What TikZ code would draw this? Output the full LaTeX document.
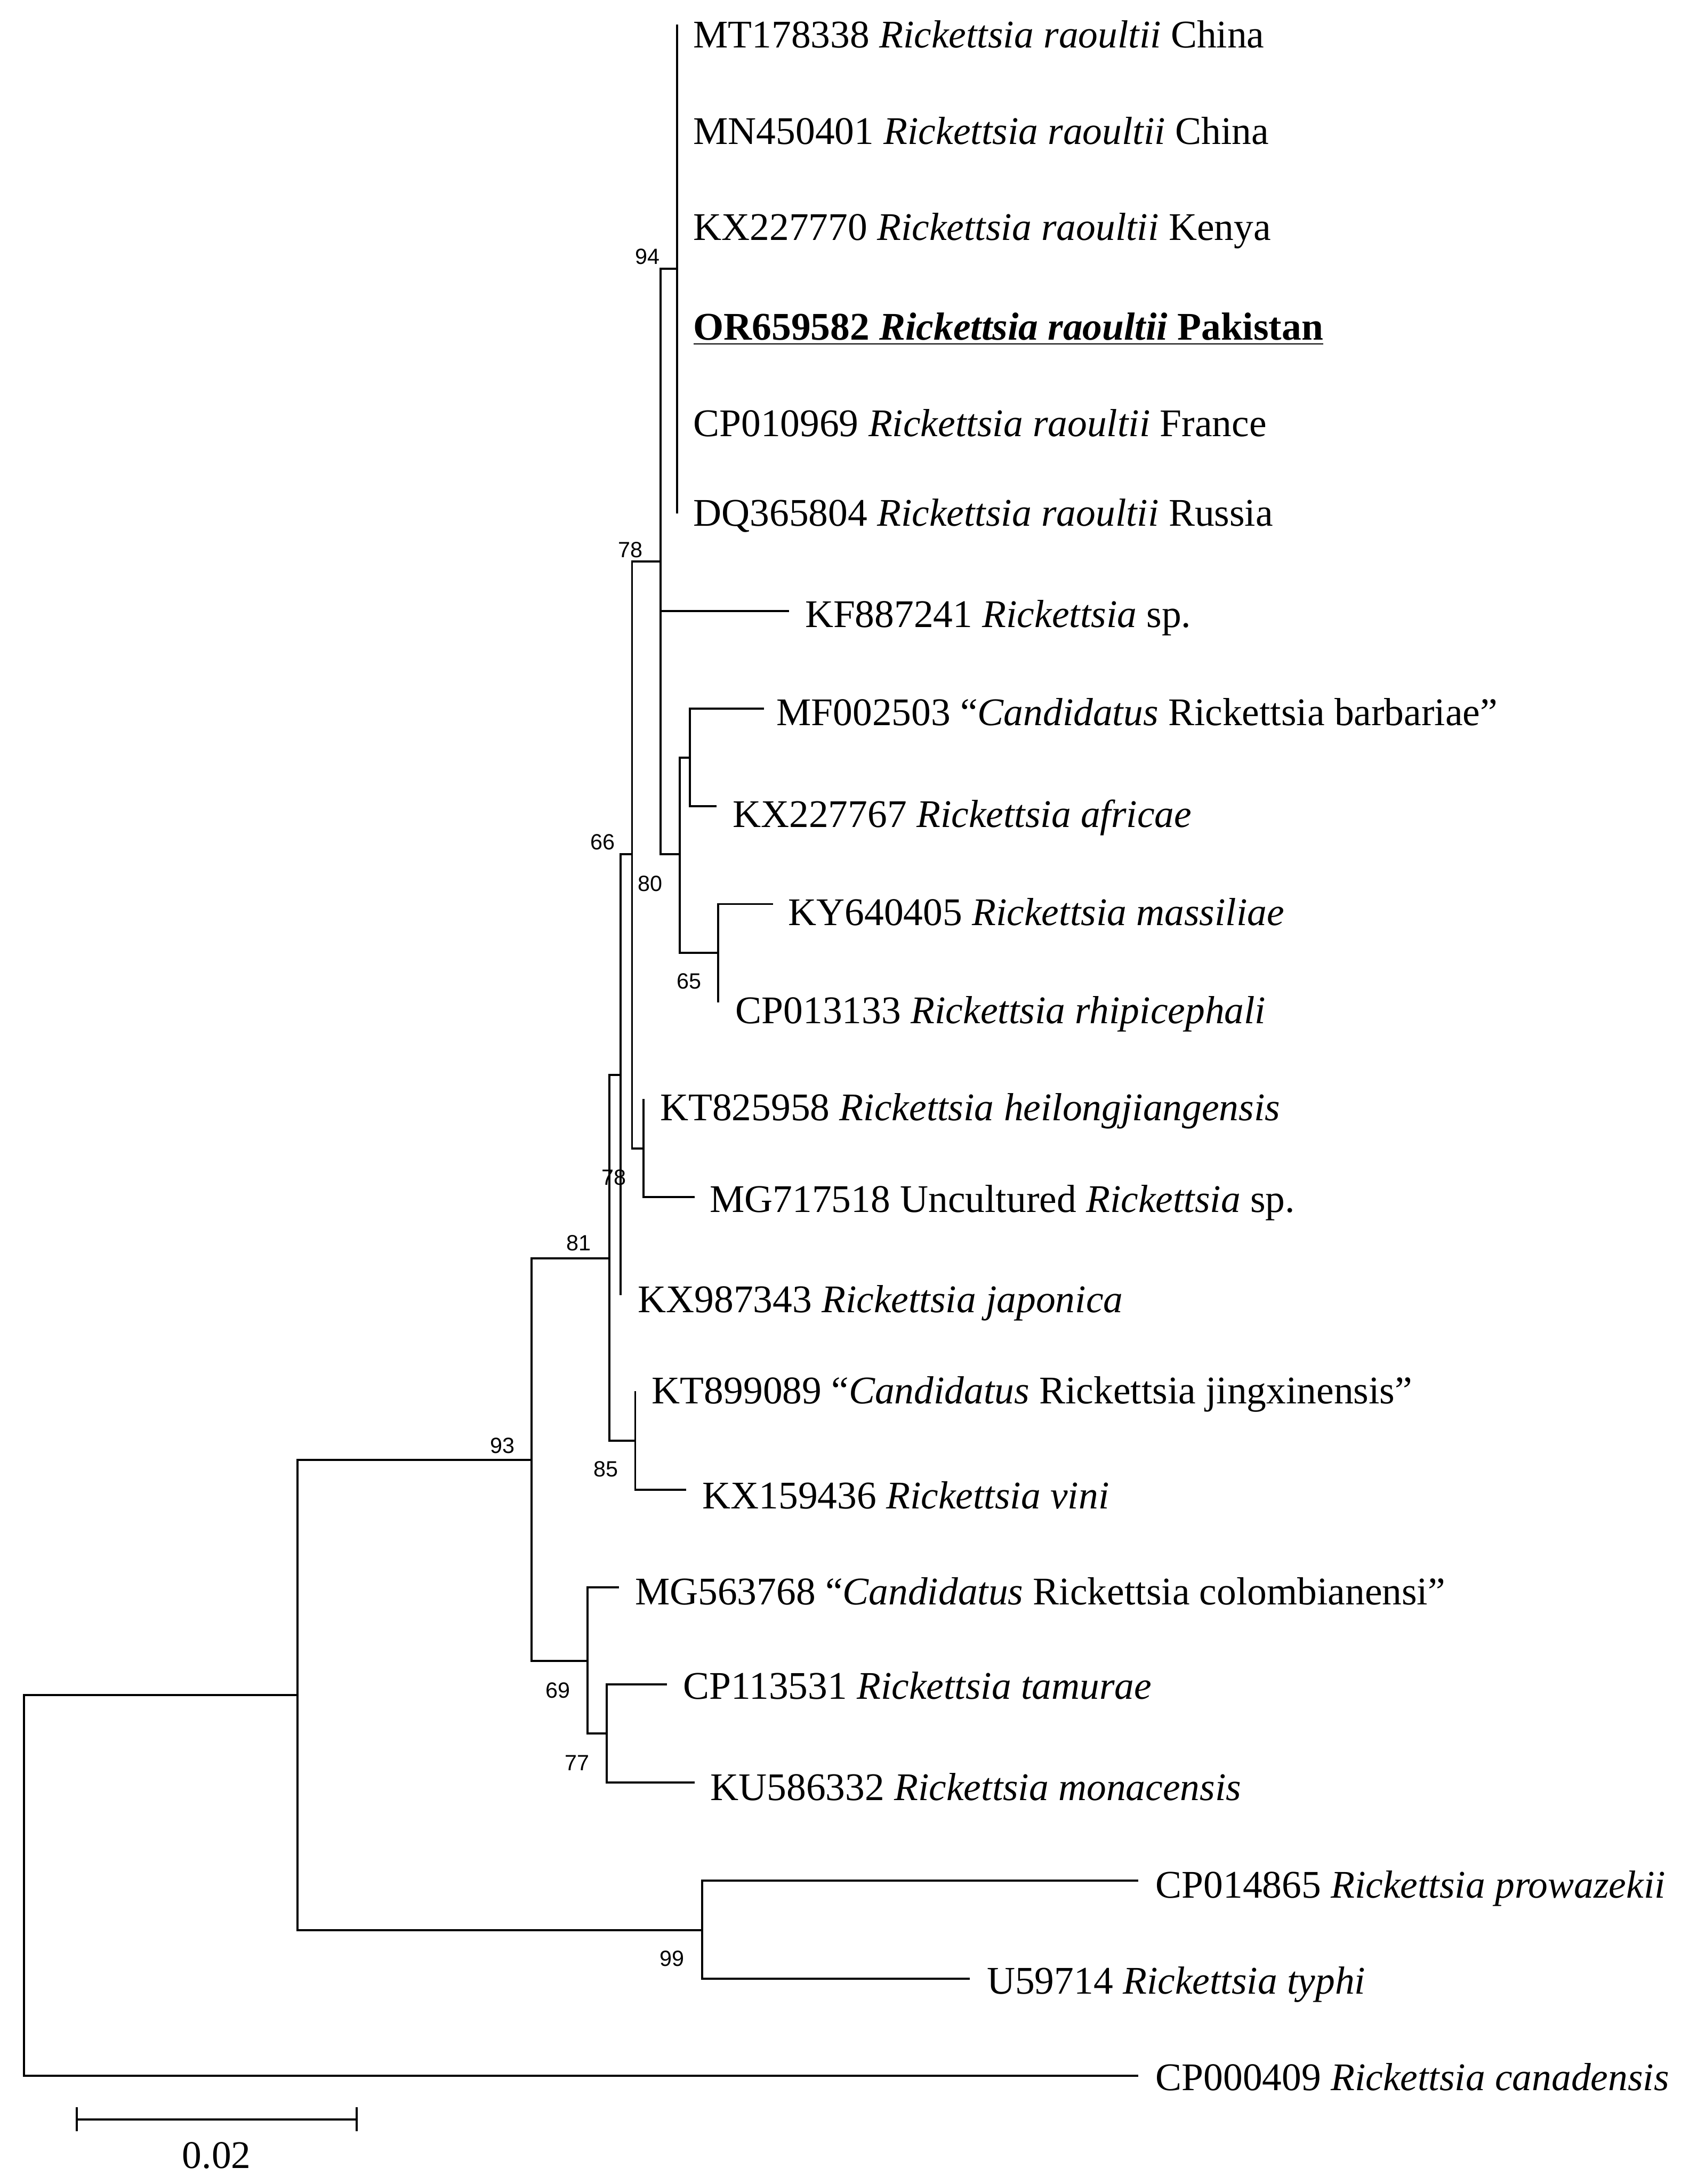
\documentclass[tikz,border=0pt]{standalone}
\usepackage{fontspec}
\setmainfont{Liberation Serif}
\newfontfamily\bootfont{Liberation Sans}
\usetikzlibrary{arrows.meta}

\tikzset{
  branch/.style={line width=0.85pt},
  taxon/.style={anchor=base west,inner sep=0pt,font=\fontsize{16}{19}\selectfont},
  boot/.style={inner sep=0pt,font=\bootfont\fontsize{9}{10}\selectfont},
}

\begin{document}
\begin{tikzpicture}[x=0.2mm,y=-0.2mm]
\useasboundingbox (0,0) rectangle (1207,1568);

% internal nodes
\coordinate (root) at (17.3,1353.8);
\coordinate (nIn) at (213.5,1216.8);
\coordinate (n93) at (381.5,1048.0);
\coordinate (n81) at (437.5,903.35);
\coordinate (n78b) at (445.5,771.8);
\coordinate (n66) at (453.8,613.3);
\coordinate (n78a) at (474.2,403.0);
\coordinate (n94) at (486,193.1);
\coordinate (n80) at (488,613.3);
\coordinate (nMF) at (495.5,543.8);
\coordinate (n65) at (515.7,684.1);
\coordinate (nKT) at (462,824.4);
\coordinate (n85) at (456.1,1034.2);
\coordinate (n69) at (422,1192.3);
\coordinate (n77) at (435.6,1244.5);
\coordinate (n99) at (504,1385.6);

% tips
\coordinate (tMT) at (486,17.7);
\coordinate (tMN) at (486,87.85);
\coordinate (tKX70) at (486,158);
\coordinate (tOR) at (486,228.15);
\coordinate (tCP69) at (486,298.3);
\coordinate (tDQ) at (486,368.8);
\coordinate (tKF) at (566.5,438.7);
\coordinate (tMF) at (548.6,508.75);
\coordinate (tKX67) at (514.6,578.9);
\coordinate (tKY) at (555,649.05);
\coordinate (tCP33) at (515.7,719.6);
\coordinate (tKT58) at (462,789.0);
\coordinate (tMG18) at (498.8,859.3);
\coordinate (tKX43) at (445.5,929.65);
\coordinate (tKT89) at (456.1,998.8);
\coordinate (tKX36) at (492.8,1069.6);
\coordinate (tMG68) at (444.6,1139.7);
\coordinate (tCP31) at (479,1209.4);
\coordinate (tKU) at (498.8,1279.6);
\coordinate (tCP65) at (817.4,1350.2);
\coordinate (tU59) at (696.2,1420.5);
\coordinate (tCP09) at (817.4,1490.4);

% branches
\draw[branch] (root) |- (nIn);
\draw[branch] (root) |- (tCP09);
\draw[branch] (nIn) |- (n93);
\draw[branch] (nIn) |- (n99);
\draw[branch] (n99) |- (tCP65);
\draw[branch] (n99) |- (tU59);
\draw[branch] (n93) |- (n81);
\draw[branch] (n93) |- (n69);
\draw[branch] (n69) |- (tMG68);
\draw[branch] (n69) |- (n77);
\draw[branch] (n77) |- (tCP31);
\draw[branch] (n77) |- (tKU);
\draw[branch] (n81) |- (n78b);
\draw[branch] (n81) |- (n85);
\draw[branch] (n85) |- (tKT89);
\draw[branch] (n85) |- (tKX36);
\draw[branch] (n78b) |- (n66);
\draw[branch] (n78b) |- (tKX43);
\draw[branch] (n66) |- (n78a);
\draw[branch] (n66) |- (nKT);
\draw[branch] (nKT) |- (tKT58);
\draw[branch] (nKT) |- (tMG18);
\draw[branch] (n78a) |- (n94);
\draw[branch] (n78a) |- (tKF);
\draw[branch] (n78a) |- (n80);
\draw[branch] (n80) |- (nMF);
\draw[branch] (n80) |- (n65);
\draw[branch] (nMF) |- (tMF);
\draw[branch] (nMF) |- (tKX67);
\draw[branch] (n65) |- (tKY);
\draw[branch] (n65) |- (tCP33);
\foreach \t in {tMT,tMN,tKX70,tOR,tCP69,tDQ}
  \draw[branch] (n94) |- (\t);

% taxa
\node[taxon] (lMT) at (497.5,34.3) {MT178338 \textit{Rickettsia raoultii} China};
\node[taxon] (lMN) at (497.5,103.5) {MN450401 \textit{Rickettsia raoultii} China};
\node[taxon] (lKX70) at (497.5,172.5) {KX227770 \textit{Rickettsia raoultii} Kenya};
\node[taxon] (lOR) at (497.5,244) {\underline{\textbf{OR659582 \textit{Rickettsia raoultii} Pakistan}}};
\node[taxon] (lCP69) at (497.5,313.3) {CP010969 \textit{Rickettsia raoultii} France};
\node[taxon] (lDQ) at (497.5,377.6) {DQ365804 \textit{Rickettsia raoultii} Russia};
\node[taxon] (lKF) at (577.7,450.2) {KF887241 \textit{Rickettsia} sp.};
\node[taxon] (lMF) at (557.2,520.8) {MF002503 “\textit{Candidatus} Rickettsia barbariae”};
\node[taxon] (lKX67) at (525.8,594) {KX227767 \textit{Rickettsia africae}};
\node[taxon] (lKY) at (565.7,664.4) {KY640405 \textit{Rickettsia massiliae}};
\node[taxon] (lCP33) at (527.9,734.9) {CP013133 \textit{Rickettsia rhipicephali}};
\node[taxon] (lKT58) at (473.7,804.6) {KT825958 \textit{Rickettsia heilongjiangensis}};
\node[taxon] (lMG18) at (509.3,870.5) {MG717518 Uncultured \textit{Rickettsia} sp.};
\node[taxon] (lKX43) at (457.7,942.1) {KX987343 \textit{Rickettsia japonica}};
\node[taxon] (lKT89) at (467.8,1007.8) {KT899089 “\textit{Candidatus} Rickettsia jingxinensis”};
\node[taxon] (lKX36) at (504,1083) {KX159436 \textit{Rickettsia vini}};
\node[taxon] (lMG68) at (455.6,1151.9) {MG563768 “\textit{Candidatus} Rickettsia colombianensi”};
\node[taxon] (lCP31) at (490.2,1219.8) {CP113531 \textit{Rickettsia tamurae}};
\node[taxon] (lKU) at (509.8,1292.4) {KU586332 \textit{Rickettsia monacensis}};
\node[taxon] (lCP65) at (829.5,1362.6) {CP014865 \textit{Rickettsia prowazekii}};
\node[taxon] (lU59) at (708.3,1431.6) {U59714 \textit{Rickettsia typhi}};
\node[taxon] (lCP09) at (829.5,1500.8) {CP000409 \textit{Rickettsia canadensis}};

% bootstrap values
\node[boot] (b94) at (464.8,184.4) {94};
\node[boot] (b78a) at (452.8,394.7) {78};
\node[boot] (b66) at (432.7,604.6) {66};
\node[boot] (b80) at (466.8,634.4) {80};
\node[boot] (b65) at (494.9,704.3) {65};
\node[boot] (b78b) at (440.7,845.3) {78};
\node[boot] (b81) at (415.7,892.5) {81};
\node[boot] (b85) at (434.9,1054.9) {85};
\node[boot] (b93) at (360.8,1037.8) {93};
\node[boot] (b69) at (400.7,1213.7) {69};
\node[boot] (b77) at (414.2,1265.7) {77};
\node[boot] (b99) at (482.6,1406) {99};

% scale bar
\coordinate (sbL) at (54.3,1521.5);
\coordinate (sbR) at (256.7,1521.5);
\draw[branch,{Bar[width=3.4mm]}-{Bar[width=3.4mm]}] (sbL) -- (sbR);
\node[taxon,anchor=base] (sbLab) at (155.5,1556.7) {0.02};
\end{tikzpicture}
\end{document}
